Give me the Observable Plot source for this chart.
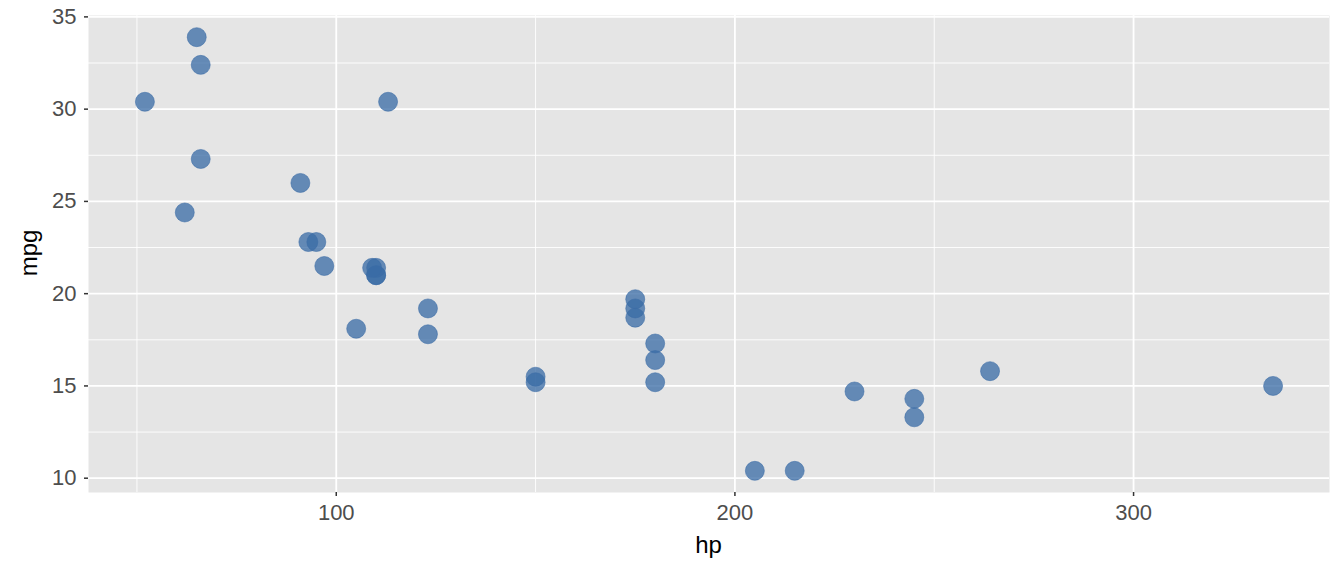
<!DOCTYPE html>
<html><head><meta charset="utf-8">
<script src="https://cdn.jsdelivr.net/npm/d3@7"></script>
<script src="https://cdn.jsdelivr.net/npm/@observablehq/plot@0.6"></script>
<style>
body{margin:0;background:#fff;font-family:"Liberation Sans",Arial,sans-serif;}
</style></head>
<body><div id="chart"></div>
<script>
const hp  = [110,110,93,110,175,105,245,62,95,123,123,180,180,180,205,215,230,66,52,65,97,150,150,245,175,66,91,113,264,175,335,109];
const mpg = [21,21,22.8,21.4,18.7,18.1,14.3,24.4,22.8,19.2,17.8,16.4,17.3,15.2,10.4,10.4,14.7,32.4,30.4,33.9,21.5,15.5,15.2,13.3,19.2,27.3,26,30.4,15.8,19.7,15,21.4];
const xTicks = [100,200,300];
const xMinor = [50,150,250];
const yTicks = [10,15,20,25,30,35];
const yMinor = [12.5,17.5,22.5,27.5,32.5];

const data = hp.map((h,i)=>({hp:h, mpg:mpg[i]}));
const xr = d3.extent(hp), yr = d3.extent(mpg);
const xpad = (xr[1]-xr[0])*0.05, ypad = (yr[1]-yr[0])*0.05;

const chart = Plot.plot({
  width:1344, height:576,
  marginLeft:88, marginTop:15, marginRight:15, marginBottom:84,
  style:{fontFamily:"'Liberation Sans',Arial,sans-serif", background:"#fff", fontSize:"22px"},
  x:{domain:[xr[0]-xpad, xr[1]+xpad], ticks:xTicks, label:null},
  y:{domain:[yr[0]-ypad, yr[1]+ypad], ticks:yTicks, label:null},
  marks:[
    Plot.frame({fill:"#E5E5E5", stroke:null}),
    Plot.ruleX(xMinor,{stroke:"#fff", strokeWidth:0.9}),
    Plot.ruleY(yMinor,{stroke:"#fff", strokeWidth:0.9}),
    Plot.ruleX(xTicks,{stroke:"#fff", strokeWidth:1.8}),
    Plot.ruleY(yTicks,{stroke:"#fff", strokeWidth:1.8}),
    Plot.axisX({ticks:xTicks, tickSize:4, tickPadding:8, fontSize:22, color:"#4d4d4d", stroke:"#333", strokeWidth:1.5, label:null}),
    Plot.axisY({ticks:yTicks, tickSize:4, tickPadding:8, fontSize:22, color:"#4d4d4d", stroke:"#333", strokeWidth:1.5, label:null}),
    Plot.dot(data,{x:"hp", y:"mpg", r:9.5, fill:"#3a6ca6", fillOpacity:0.76, stroke:"#3a6ca6", strokeOpacity:0.55, strokeWidth:1})
  ]
});
chart.querySelectorAll('[aria-label="x-axis tick label"], [aria-label="y-axis tick label"]').forEach(g=>{g.setAttribute("font-size","22");g.setAttribute("fill","#4d4d4d");});
chart.querySelectorAll('[aria-label="x-axis tick label"] text, [aria-label="y-axis tick label"] text').forEach(t=>{t.setAttribute("fill","#4d4d4d");t.setAttribute("font-size","22");});
const svg = d3.select(chart);
svg.append("text").attr("x", (88+1329)/2).attr("y", 553).attr("text-anchor","middle")
  .attr("font-size",24).attr("fill","#000").text("hp");
svg.append("text").attr("transform","translate(37,253) rotate(-90)").attr("text-anchor","middle")
  .attr("font-size",24).attr("fill","#000").text("mpg");
document.getElementById("chart").appendChild(chart);
</script>
</body></html>
